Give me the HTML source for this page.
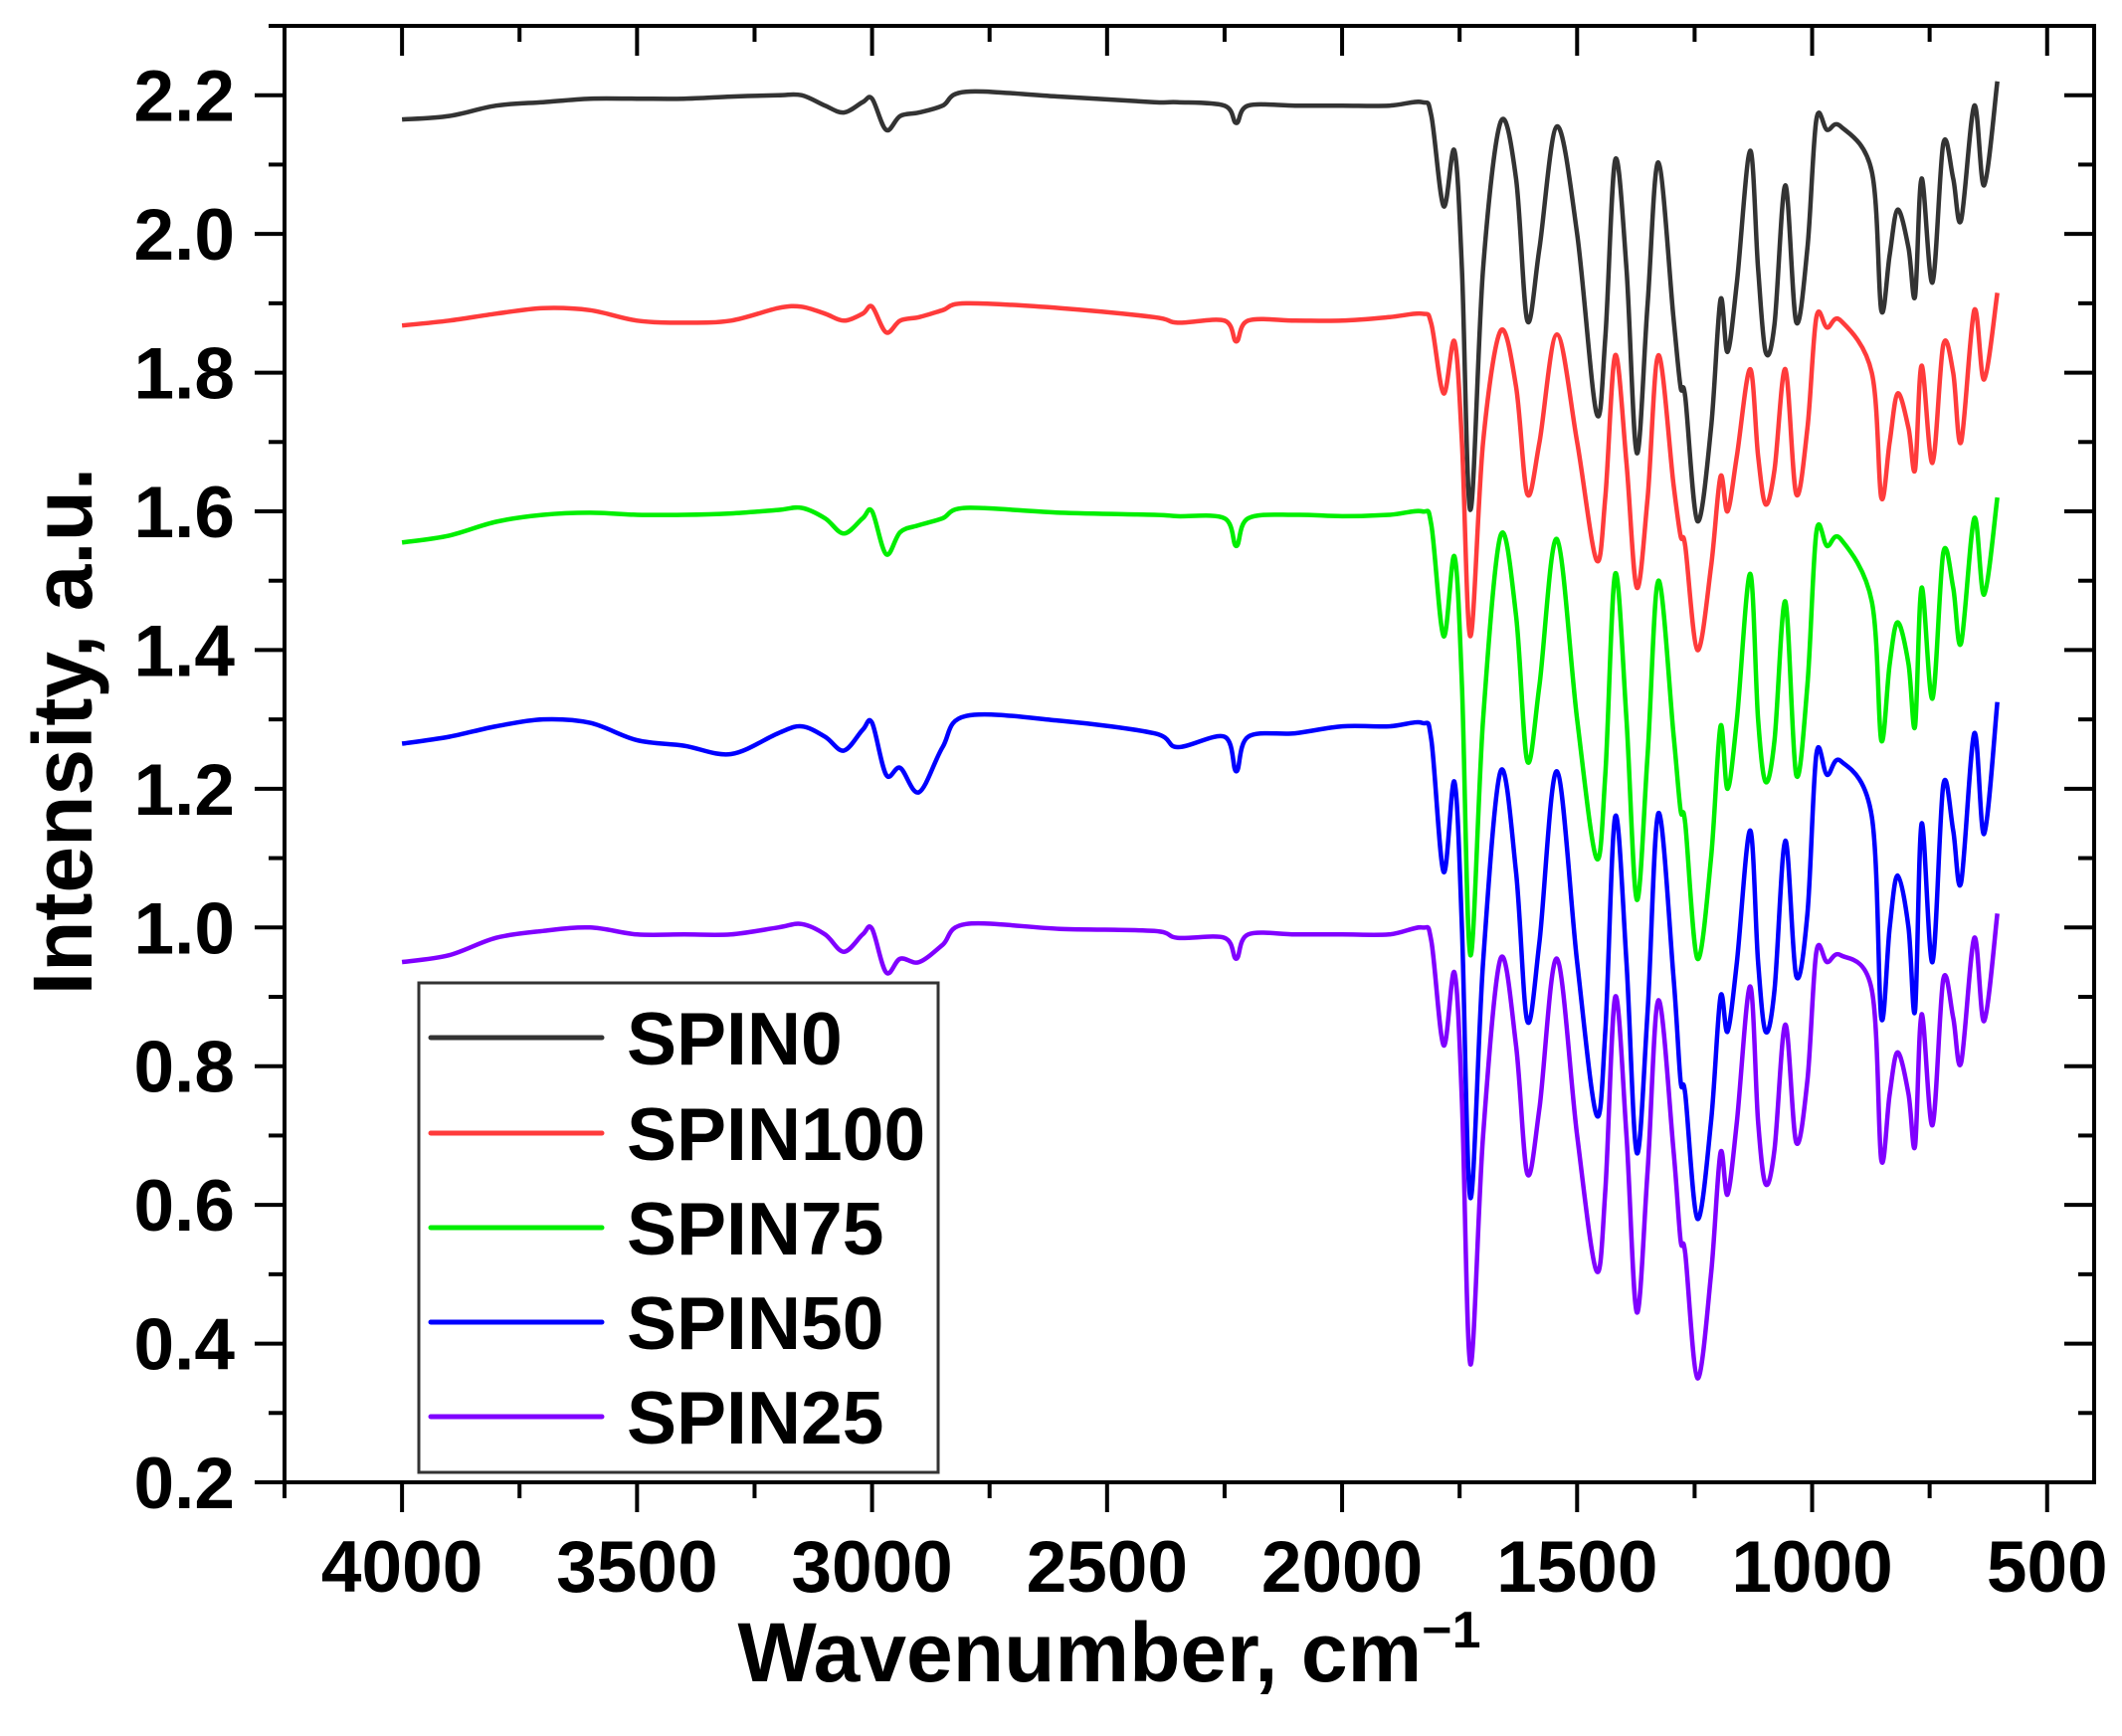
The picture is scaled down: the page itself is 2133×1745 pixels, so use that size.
<!DOCTYPE html>
<html><head><meta charset="utf-8"><style>
html,body{margin:0;padding:0;background:#fff;}
svg{display:block;font-family:"Liberation Sans",Arial,sans-serif;font-weight:bold;}
</style></head><body>
<svg id="chart" width="2133" height="1745" viewBox="0 0 2133 1745" xmlns="http://www.w3.org/2000/svg">
<g id="plot"></g>
<g id="axes"></g>
<g id="legend"></g>
</svg>
<script>
const wavenumbers=[4000,3900,3800,3700,3600,3500,3400,3300,3200,3150,3100,3060,3020,3000,2970,2940,2900,2850,2800,2600,2400,2350,2250,2225,2200,2100,2000,1900,1830,1810,1784,1761,1745,1727,1700,1663,1630,1606,1580,1543,1500,1459,1440,1419,1395,1373,1350,1327,1295,1280,1270,1244,1215,1195,1180,1160,1132,1115,1099,1080,1057,1034,1010,991,968,939,873,853,835,818,795,781,767,744,721,700,683,655,634,606];
const spin0=[2.165,2.17,2.185,2.19,2.195,2.195,2.195,2.198,2.2,2.2,2.185,2.175,2.19,2.195,2.15,2.17,2.175,2.185,2.205,2.198,2.19,2.19,2.185,2.16,2.185,2.185,2.185,2.185,2.19,2.17,2.04,2.12,1.95,1.602,1.95,2.161,2.08,1.875,1.98,2.155,2.0,1.742,1.85,2.107,1.95,1.684,1.9,2.103,1.88,1.78,1.765,1.586,1.72,1.905,1.83,1.93,2.12,1.95,1.83,1.87,2.07,1.873,1.98,2.165,2.15,2.155,2.09,1.89,1.97,2.035,1.98,1.91,2.08,1.93,2.13,2.08,2.02,2.185,2.07,2.22];
const spin100=[1.868,1.875,1.885,1.893,1.89,1.875,1.872,1.875,1.893,1.895,1.885,1.875,1.885,1.895,1.858,1.875,1.88,1.89,1.9,1.893,1.88,1.872,1.875,1.845,1.875,1.875,1.875,1.88,1.885,1.87,1.77,1.845,1.7,1.42,1.7,1.86,1.78,1.625,1.7,1.855,1.7,1.53,1.62,1.825,1.67,1.49,1.62,1.825,1.64,1.565,1.55,1.4,1.52,1.65,1.6,1.68,1.805,1.68,1.61,1.66,1.805,1.625,1.72,1.88,1.865,1.875,1.8,1.62,1.7,1.77,1.72,1.66,1.81,1.67,1.84,1.8,1.7,1.89,1.79,1.915];
const spin75=[1.555,1.565,1.585,1.595,1.598,1.595,1.595,1.597,1.602,1.605,1.59,1.568,1.59,1.6,1.538,1.57,1.58,1.59,1.605,1.598,1.595,1.593,1.59,1.55,1.59,1.595,1.593,1.595,1.6,1.58,1.42,1.535,1.35,0.96,1.3,1.565,1.45,1.24,1.35,1.56,1.3,1.1,1.22,1.51,1.3,1.04,1.25,1.5,1.28,1.17,1.15,0.955,1.1,1.29,1.2,1.3,1.51,1.3,1.21,1.27,1.47,1.22,1.35,1.57,1.55,1.56,1.47,1.27,1.38,1.44,1.38,1.29,1.49,1.33,1.54,1.49,1.41,1.59,1.48,1.62];
const spin50=[1.265,1.275,1.29,1.3,1.295,1.27,1.262,1.25,1.28,1.29,1.275,1.255,1.285,1.295,1.22,1.23,1.195,1.26,1.305,1.298,1.28,1.26,1.275,1.225,1.275,1.28,1.29,1.29,1.295,1.27,1.08,1.21,1.0,0.61,0.95,1.225,1.08,0.865,0.98,1.225,0.95,0.73,0.85,1.16,0.95,0.675,0.88,1.165,0.93,0.78,0.76,0.58,0.72,0.9,0.85,0.95,1.14,0.95,0.85,0.91,1.125,0.93,1.02,1.25,1.22,1.24,1.16,0.87,1.0,1.075,1.0,0.88,1.15,0.95,1.205,1.14,1.065,1.28,1.135,1.325];
const spin25=[0.95,0.96,0.985,0.995,1.0,0.99,0.99,0.99,1.0,1.005,0.99,0.965,0.99,0.998,0.935,0.955,0.95,0.975,1.005,0.998,0.995,0.985,0.985,0.955,0.99,0.99,0.99,0.99,1.0,0.98,0.83,0.935,0.75,0.37,0.7,0.955,0.83,0.645,0.74,0.955,0.7,0.505,0.62,0.9,0.7,0.445,0.65,0.895,0.68,0.55,0.53,0.35,0.5,0.675,0.615,0.72,0.915,0.72,0.63,0.68,0.86,0.69,0.78,0.965,0.95,0.96,0.91,0.665,0.76,0.82,0.76,0.685,0.875,0.715,0.925,0.87,0.805,0.985,0.865,1.02];
const seriesNames=["SPIN0","SPIN100","SPIN75","SPIN50","SPIN25"];
const seriesColors=["#333333","#ff3b3b","#00ee00","#0000ff","#8000ff"];
const xTicks=[4000,3500,3000,2500,2000,1500,1000,500];
const yTicks=[0.2,0.4,0.6,0.8,1.0,1.2,1.4,1.6,1.8,2.0,2.2];

const L=286,R=2105,T=26,B=1490,XMAX=4250,XMIN=400,YMIN=0.2,YMAX=2.3;
const xs=v=>L+(XMAX-v)/(XMAX-XMIN)*(R-L);
const ys=v=>B-(v-YMIN)/(YMAX-YMIN)*(B-T);
const NS="http://www.w3.org/2000/svg";
function mk(tag,attrs,parent){const e=document.createElementNS(NS,tag);for(const k in attrs)e.setAttribute(k,attrs[k]);parent.appendChild(e);return e;}
const plot=document.getElementById('plot'),axes=document.getElementById('axes'),legend=document.getElementById('legend');
const allSeries=[spin0,spin100,spin75,spin50,spin25];
allSeries.forEach((vals,si)=>{
  const p=wavenumbers.map((w,i)=>[xs(w),ys(vals[i])]);
  let d=`M${p[0][0].toFixed(1)},${p[0][1].toFixed(1)}`;
  for(let i=0;i<p.length-1;i++){
    const p0=p[Math.max(0,i-1)],p1=p[i],p2=p[i+1],p3=p[Math.min(p.length-1,i+2)];
    const c1=[p1[0]+(p2[0]-p0[0])/6,p1[1]+(p2[1]-p0[1])/6];
    const c2=[p2[0]-(p3[0]-p1[0])/6,p2[1]-(p3[1]-p1[1])/6];
    d+=`C${c1[0].toFixed(1)},${c1[1].toFixed(1)} ${c2[0].toFixed(1)},${c2[1].toFixed(1)} ${p2[0].toFixed(1)},${p2[1].toFixed(1)}`;
  }
  const path=mk('path',{d:d,fill:'none',stroke:seriesColors[si],'stroke-width':4.5,'stroke-linejoin':'round'},plot);
  
  
});
const fr=mk('rect',{x:L,y:T,width:R-L,height:B-T,fill:'none',stroke:'#000','stroke-width':4},axes);


for(let w=4250;w>=400;w-=250){
  const x=xs(w),major=(w%500===0);
  mk('line',{x1:x,y1:B,x2:x,y2:B+(major?30:16),stroke:'#000','stroke-width':4},axes);
  mk('line',{x1:x,y1:T,x2:x,y2:T+(major?30:16),stroke:'#000','stroke-width':4},axes);
}
xTicks.forEach(w=>{
  const t=mk('text',{x:xs(w),y:1600,'text-anchor':'middle','font-size':73},axes);
  t.textContent=w;
  
  
});
for(let k=2;k<=23;k++){
  const v=k/10,y=ys(v),major=(k%2===0);
  mk('line',{x1:L,y1:y,x2:L-(major?30:16),y2:y,stroke:'#000','stroke-width':4},axes);
  mk('line',{x1:R,y1:y,x2:R-(major?30:16),y2:y,stroke:'#000','stroke-width':4},axes);
}
yTicks.forEach(v=>{
  const t=mk('text',{x:236,y:ys(v)+26,'text-anchor':'end','font-size':73},axes);
  t.textContent=v.toFixed(1);
  
  
});
const xt=mk('text',{x:1115,y:1690,'text-anchor':'middle','font-size':84},axes);
xt.innerHTML='Wavenumber, cm<tspan font-size="52" dy="-34">−1</tspan>';


const yt=mk('text',{x:0,y:0,'text-anchor':'middle','font-size':84,transform:'translate(92,735) rotate(-90)'},axes);
yt.textContent='Intensity, a.u.';


const lb=mk('rect',{x:421,y:988,width:522,height:492,fill:'#fff',stroke:'#333','stroke-width':3},legend);


const legY=[1043,1139,1234,1329,1424];
seriesNames.forEach((n,i)=>{
  const g=mk('g',{},legend);
  
  
  mk('line',{x1:433,y1:legY[i],x2:605,y2:legY[i],stroke:seriesColors[i],'stroke-width':5,'stroke-linecap':'round'},g);
  const t=mk('text',{x:630,y:legY[i]+27,'font-size':75},g);
  t.textContent=n;
});
</script>
</body></html>
